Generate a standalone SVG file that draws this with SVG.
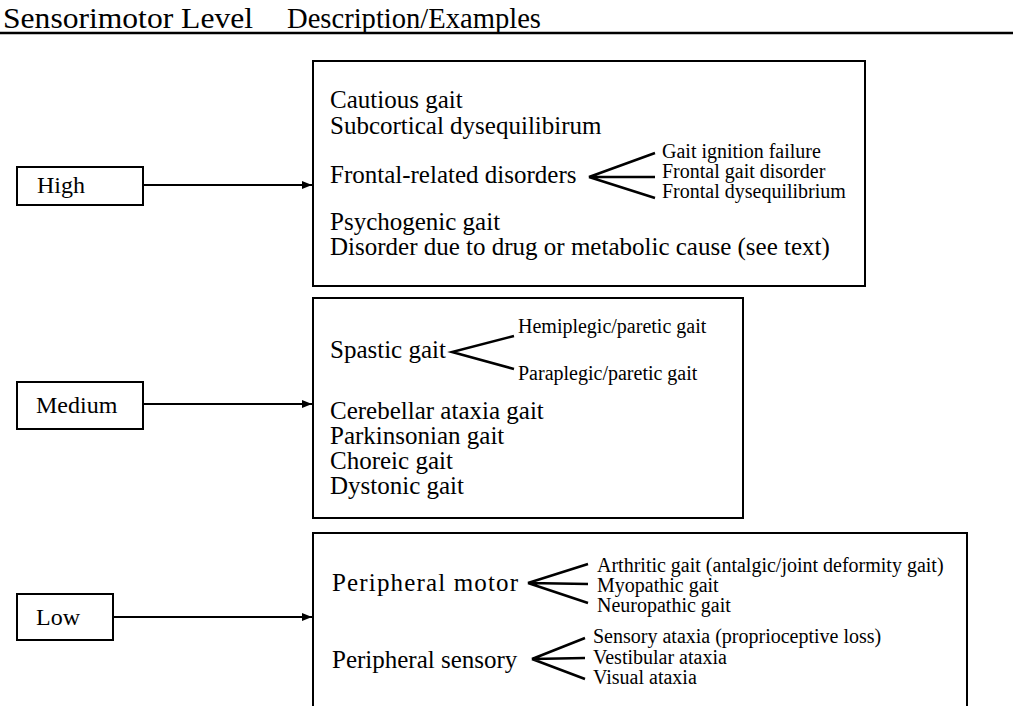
<svg xmlns="http://www.w3.org/2000/svg" width="1013" height="706" viewBox="0 0 1013 706">
<style>
text{font-family:"Liberation Serif","Times New Roman",serif;fill:#000}
.h{font-size:30px}
.b{font-size:25px}
.l{font-size:24px}
.s{font-size:20px}
.box{fill:none;stroke:#000;stroke-width:2}
.ln{fill:none;stroke:#000;stroke-width:2}
.fk{fill:none;stroke:#000;stroke-width:2.5}
</style>
<defs>
<marker id="ah" viewBox="0 0 10 8" refX="10" refY="4" markerWidth="10" markerHeight="8" markerUnits="userSpaceOnUse" orient="auto">
<path d="M0,0 L10,4 L0,8 z" fill="#000"/>
</marker>
</defs>
<rect width="1013" height="706" fill="#fff"/>
<g id="header">
<text class="h" x="3" y="28" textLength="250" lengthAdjust="spacingAndGlyphs">Sensorimotor Level</text>
<text class="h" x="287" y="28" textLength="254" lengthAdjust="spacingAndGlyphs">Description/Examples</text>
<line x1="0" y1="33" x2="1013" y2="33" stroke="#000" stroke-width="2.5"/>
</g>
<g id="level-high">
<rect class="box" x="17" y="167" width="126" height="38"/>
<text class="l" x="37" y="193">High</text>
</g>
<g id="level-medium">
<rect class="box" x="17" y="382" width="126" height="47"/>
<text class="l" x="36" y="413">Medium</text>
</g>
<g id="level-low">
<rect class="box" x="17" y="594" width="96" height="46"/>
<text class="l" x="36" y="625">Low</text>
</g>
<g id="desc-high">
<rect class="box" x="313" y="61" width="552" height="225"/>
<text class="b" x="330" y="108">Cautious gait</text>
<text class="b" x="330" y="134">Subcortical dysequilibirum</text>
<text class="b" x="330" y="183">Frontal-related disorders</text>
<text class="b" x="330" y="230">Psychogenic gait</text>
<text class="b" x="330" y="255">Disorder due to drug or metabolic cause (see text)</text>
<path class="fk" d="M655,153 L589,177 L655,177 M589,177 L655,198"/>
<text class="s" x="662" y="158">Gait ignition failure</text>
<text class="s" x="662" y="178">Frontal gait disorder</text>
<text class="s" x="662" y="198">Frontal dysequilibrium</text>
</g>
<g id="desc-medium">
<rect class="box" x="313" y="298" width="430" height="220"/>
<text class="b" x="330" y="358">Spastic gait</text>
<path class="fk" d="M514,336 L452,352 L514,369"/>
<text class="s" x="518" y="333">Hemiplegic/paretic gait</text>
<text class="s" x="518" y="380">Paraplegic/paretic gait</text>
<text class="b" x="330" y="419">Cerebellar ataxia gait</text>
<text class="b" x="330" y="444">Parkinsonian gait</text>
<text class="b" x="330" y="469">Choreic gait</text>
<text class="b" x="330" y="494">Dystonic gait</text>
</g>
<g id="desc-low">
<path class="box" d="M313,720 L313,533 L967,533 L967,720"/>
<text class="b" x="332" y="591" textLength="186" lengthAdjust="spacing">Peripheral motor</text>
<path class="fk" d="M588,564 L528,583 L588,584 M528,583 L588,603"/>
<text class="s" x="597" y="572">Arthritic gait (antalgic/joint deformity gait)</text>
<text class="s" x="597" y="592">Myopathic gait</text>
<text class="s" x="597" y="612">Neuropathic gait</text>
<text class="b" x="332" y="668">Peripheral sensory</text>
<path class="fk" d="M585,638 L532,659 L585,658 M532,659 L585,679"/>
<text class="s" x="593" y="643">Sensory ataxia (proprioceptive loss)</text>
<text class="s" x="593" y="664">Vestibular ataxia</text>
<text class="s" x="593" y="684">Visual ataxia</text>
</g>
<g id="connectors">
<line class="ln" x1="143" y1="185" x2="312" y2="185" marker-end="url(#ah)"/>
<line class="ln" x1="143" y1="404" x2="312" y2="404" marker-end="url(#ah)"/>
<line class="ln" x1="113" y1="617" x2="312" y2="617" marker-end="url(#ah)"/>
</g>
</svg>
